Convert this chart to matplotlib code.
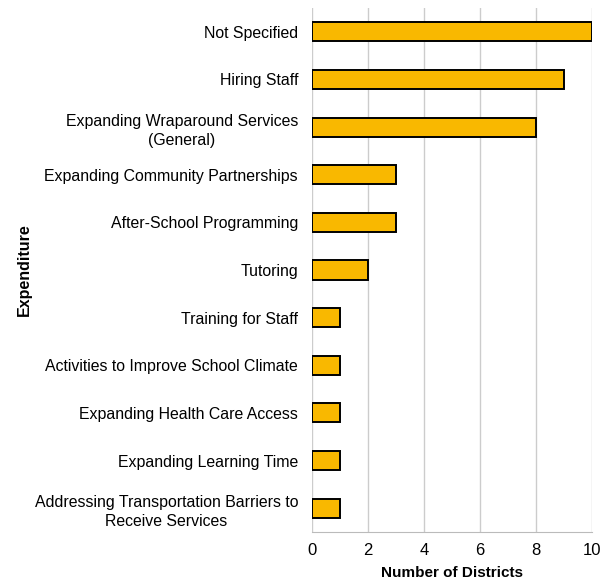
import matplotlib
matplotlib.use("Agg")
import matplotlib.pyplot as plt

# data, top to bottom as shown
categories = [
    "Not Specified",
    "Hiring Staff",
    "Expanding Wraparound Services\n(General)",
    "Expanding Community Partnerships",
    "After-School Programming",
    "Tutoring",
    "Training for Staff",
    "Activities to Improve School Climate",
    "Expanding Health Care Access",
    "Expanding Learning Time",
    "Addressing Transportation Barriers to\nReceive Services",
]
districts = [10, 9, 8, 3, 3, 2, 1, 1, 1, 1, 1]
x_ticks = [0, 2, 4, 6, 8, 10]

plt.rcParams["font.family"] = ["Liberation Sans", "DejaVu Sans"]

fig = plt.figure(figsize=(6.11, 5.81), dpi=100)
ax = fig.add_axes([0.5106, 0.0843, 0.4583, 0.9019])

ypos = list(range(len(categories)))
ax.barh(ypos, districts, height=0.4, color="#F9B800",
        edgecolor="black", linewidth=1.4, zorder=3)

ax.set_ylim(len(categories) - 0.5, -0.5)
ax.set_xlim(0, 10)
ax.set_xticks(x_ticks)
ax.set_yticks(ypos)
ax.set_yticklabels(categories, fontsize=11.4)
for lbl in ax.get_yticklabels():
    lbl.set_multialignment("center")
    lbl.set_linespacing(1.35)
ax.tick_params(axis="y", length=0, pad=10)
ax.tick_params(axis="x", length=0, labelsize=12, pad=8)

ax.grid(axis="x", color="#cccccc", linewidth=1, zorder=0)
for s in ("top", "right", "left"):
    ax.spines[s].set_visible(False)
ax.spines["bottom"].set_color("#bbbbbb")

ax.set_xlabel("Number of Districts", fontsize=11, fontweight="bold", labelpad=6)
ax.set_ylabel("Expenditure", fontsize=11.5, fontweight="bold")
ax.yaxis.set_label_coords(-1.0, 0.5)

fig.savefig("out.png", dpi=100, facecolor="white")
